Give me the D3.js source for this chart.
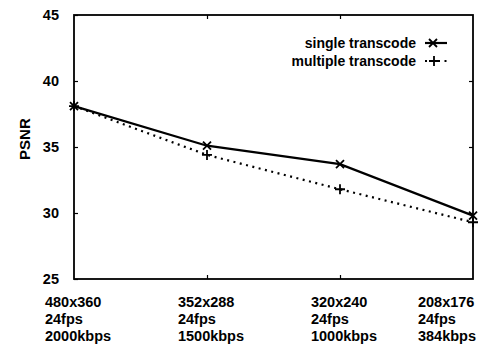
<!DOCTYPE html>
<html>
<head>
<meta charset="utf-8">
<script src="https://cdn.jsdelivr.net/npm/d3@7"></script>
<style>
  body { margin: 0; background: #fff; }
  svg text { font-family: "Liberation Sans", Arial, sans-serif; font-weight: bold; fill: #000; }
</style>
</head>
<body>
<svg></svg>
<script>
var categories = [
  ["480x360", "24fps", "2000kbps"],
  ["352x288", "24fps", "1500kbps"],
  ["320x240", "24fps", "1000kbps"],
  ["208x176", "24fps", "384kbps"]
];
var single = [38.1, 35.1, 33.7, 29.8];
var multiple = [38.1, 34.4, 31.8, 29.3];
var yTicks = [25, 30, 35, 40, 45];
var seriesNames = ["single transcode", "multiple transcode"];

var width = 482, height = 348;
var margin = { left: 74, right: 9, top: 15, bottom: 69 };
var svg = d3.select("svg").attr("width", width).attr("height", height);
var g = svg.append("g").attr("transform", "translate(" + margin.left + "," + margin.top + ")");
var w = width - margin.left - margin.right;
var h = height - margin.top - margin.bottom;

var x = d3.scaleLinear().domain([0, categories.length - 1]).range([0, w]);
var y = d3.scaleLinear().domain([25, 45]).range([h, 0]);

// y axis labels + inward ticks on both sides
var yAxis = d3.axisLeft(y).tickValues(yTicks).tickSize(-4).tickPadding(15);
g.append("g").call(yAxis)
  .call(function (s) { s.select(".domain").remove(); })
  .selectAll("text").style("font-size", "14.5px");
g.append("g").attr("transform", "translate(" + w + ",0)")
  .call(d3.axisRight(y).tickValues(yTicks.slice(1, -1)).tickSize(-4).tickFormat(""))
  .call(function (s) { s.select(".domain").remove(); });

// x ticks top and bottom
g.append("g").attr("transform", "translate(0," + h + ")")
  .call(d3.axisBottom(x).tickValues([1, 2]).tickSize(-4).tickFormat(""))
  .call(function (s) { s.select(".domain").remove(); });
g.append("g")
  .call(d3.axisTop(x).tickValues([1, 2]).tickSize(-4).tickFormat(""))
  .call(function (s) { s.select(".domain").remove(); });
g.selectAll(".tick line").attr("stroke", "#000").attr("stroke-width", 1.2);

// frame
g.append("rect").attr("width", w).attr("height", h)
  .attr("fill", "none").attr("stroke", "#000").attr("stroke-width", 1.8);

// x labels (multi-line, left aligned block)
categories.forEach(function (lines, i) {
  var t = g.append("text").attr("y", h + 28).style("font-size", "14.5px");
  lines.forEach(function (ln, j) {
    t.append("tspan").attr("x", 0).attr("dy", j === 0 ? 0 : 17).text(ln);
  });
  var bw = t.node().getBBox().width;
  var left = Math.min(x(i) - bw / 2 + 4, width - margin.left - 6 - bw);
  t.selectAll("tspan").attr("x", left);
});

// y title
svg.append("text")
  .attr("transform", "translate(30," + (margin.top + y(35.6)) + ") rotate(-90)")
  .attr("text-anchor", "middle").style("font-size", "15px").text("PSNR");

var line = d3.line().x(function (d, i) { return x(i); }).y(function (d) { return y(d); });

g.append("path").datum(multiple).attr("d", line)
  .attr("fill", "none").attr("stroke", "#000").attr("stroke-width", 2.2)
  .attr("stroke-dasharray", "2,4.5");
g.append("path").datum(single).attr("d", line)
  .attr("fill", "none").attr("stroke", "#000").attr("stroke-width", 2.2);

function cross(sel, cx, cy) {
  sel.append("path").attr("d", "M" + (cx - 4) + "," + (cy - 4) + "L" + (cx + 4) + "," + (cy + 4) +
    "M" + (cx - 4) + "," + (cy + 4) + "L" + (cx + 4) + "," + (cy - 4))
    .attr("stroke", "#000").attr("stroke-width", 1.8);
}
function plus(sel, cx, cy) {
  sel.append("path").attr("d", "M" + (cx - 5) + "," + cy + "L" + (cx + 5) + "," + cy +
    "M" + cx + "," + (cy - 5) + "L" + cx + "," + (cy + 5))
    .attr("stroke", "#000").attr("stroke-width", 1.8);
}
single.forEach(function (d, i) { cross(g, x(i), y(d)); });
multiple.forEach(function (d, i) { plus(g, x(i), y(d)); });

// legend
var lx = 351, ly = 28;
seriesNames.forEach(function (name, i) {
  var yy = ly + i * 18;
  g.append("text").attr("x", lx - 9).attr("y", yy).attr("dy", "0.35em")
    .attr("text-anchor", "end").style("font-size", "14px").text(name);
  var seg = g.append("line").attr("x1", lx).attr("x2", lx + 22).attr("y1", yy).attr("y2", yy)
    .attr("stroke", "#000").attr("stroke-width", 2.2);
  if (i === 1) seg.attr("stroke-dasharray", "2,4.5");
  if (i === 0) cross(g, lx + 8, yy); else plus(g, lx + 9, yy);
});
</script>
</body>
</html>
